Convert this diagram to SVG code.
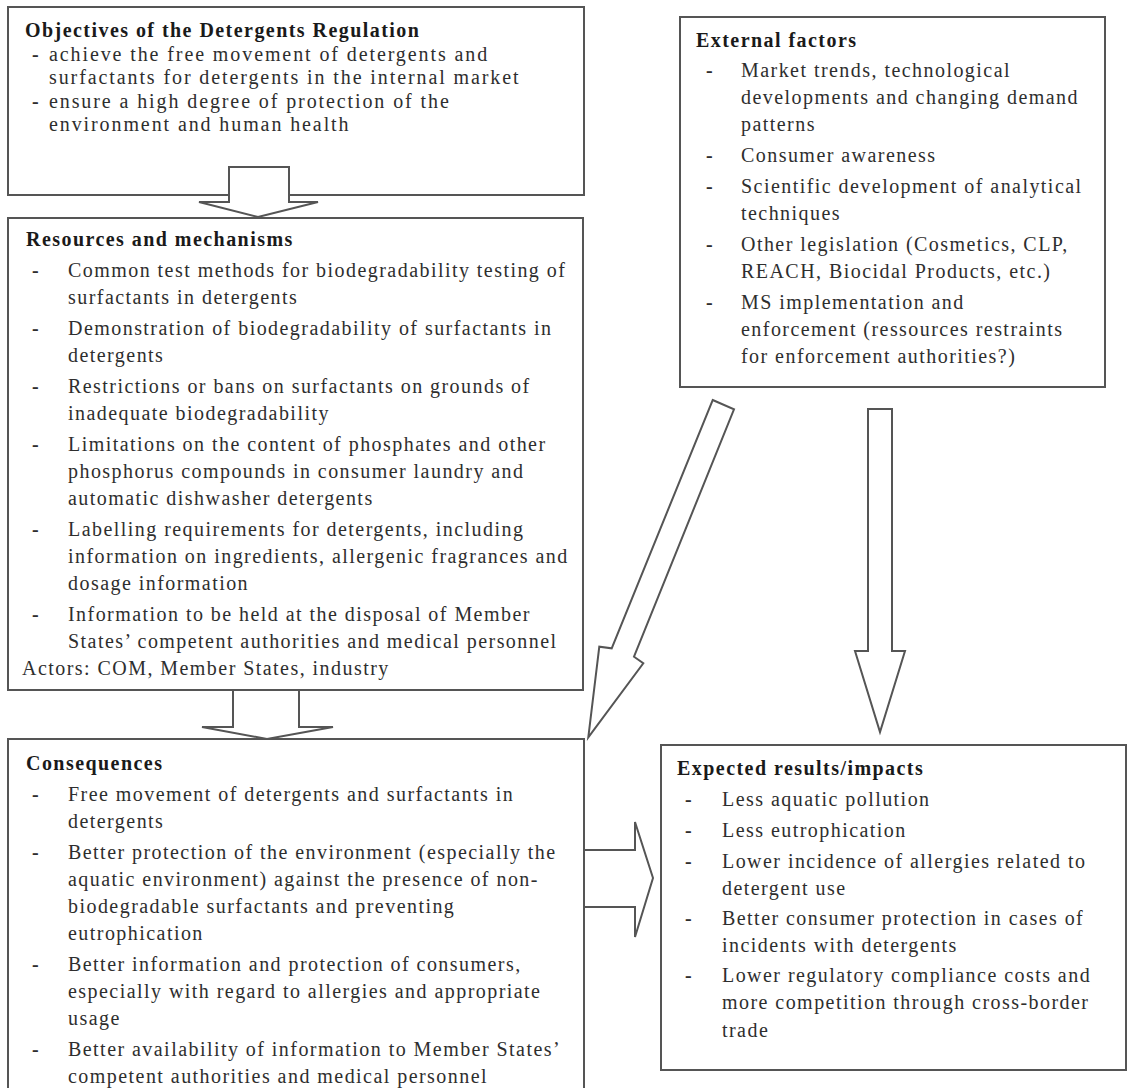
<svg xmlns="http://www.w3.org/2000/svg" width="1128" height="1088" viewBox="0 0 1128 1088">
<style>
  .box { fill: #ffffff; stroke: #555555; stroke-width: 2; }
  .arrow { fill: #ffffff; stroke: #555555; stroke-width: 2; stroke-linejoin: miter; }
  text { font-family: "Liberation Serif", "Times New Roman", serif; font-size: 20px; letter-spacing: 1.45px; fill: #2e2e2e; }
  .t { font-weight: bold; fill: #1a1a1a; }
  .d { font-weight: bold; fill: #2e2e2e; }
  .w { letter-spacing: 1.9px; }
</style>
<rect width="1128" height="1088" fill="#ffffff"/>

<g id="objectives">
  <rect class="box" x="8" y="7" width="576" height="188"/>
  <text class="t" x="25" y="37">Objectives of the Detergents Regulation</text>
  <text class="d" x="32" y="61">-</text>
  <text class="w" x="49" y="61">achieve the free movement of detergents and</text>
  <text class="w" x="49" y="84">surfactants for detergents in the internal market</text>
  <text class="d" x="32" y="108">-</text>
  <text class="w" x="49" y="108">ensure a high degree of protection of the</text>
  <text class="w" x="49" y="131">environment and human health</text>
</g>

<g id="resources">
  <rect class="box" x="8" y="218" width="575" height="472"/>
  <text class="t" x="26" y="246">Resources and mechanisms</text>
  <text class="d" x="32" y="277">-</text>
  <text x="68" y="277">Common test methods for biodegradability testing of</text>
  <text x="68" y="304">surfactants in detergents</text>
  <text class="d" x="32" y="335">-</text>
  <text x="68" y="335">Demonstration of biodegradability of surfactants in</text>
  <text x="68" y="362">detergents</text>
  <text class="d" x="32" y="393">-</text>
  <text x="68" y="393">Restrictions or bans on surfactants on grounds of</text>
  <text x="68" y="420">inadequate biodegradability</text>
  <text class="d" x="32" y="451">-</text>
  <text x="68" y="451">Limitations on the content of phosphates and other</text>
  <text x="68" y="478">phosphorus compounds in consumer laundry and</text>
  <text x="68" y="505">automatic dishwasher detergents</text>
  <text class="d" x="32" y="536">-</text>
  <text x="68" y="536">Labelling requirements for detergents, including</text>
  <text x="68" y="563">information on ingredients, allergenic fragrances and</text>
  <text x="68" y="590">dosage information</text>
  <text class="d" x="32" y="621">-</text>
  <text x="68" y="621">Information to be held at the disposal of Member</text>
  <text x="68" y="648">States’ competent authorities and medical personnel</text>
  <text x="22" y="675">Actors: COM, Member States, industry</text>
</g>

<g id="consequences">
  <rect class="box" x="8" y="739" width="576" height="360"/>
  <text class="t" x="26" y="770">Consequences</text>
  <text class="d" x="32" y="801">-</text>
  <text x="68" y="801">Free movement of detergents and surfactants in</text>
  <text x="68" y="828">detergents</text>
  <text class="d" x="32" y="859">-</text>
  <text x="68" y="859">Better protection of the environment (especially the</text>
  <text x="68" y="886">aquatic environment) against the presence of non-</text>
  <text x="68" y="913">biodegradable surfactants and preventing</text>
  <text x="68" y="940">eutrophication</text>
  <text class="d" x="32" y="971">-</text>
  <text x="68" y="971">Better information and protection of consumers,</text>
  <text x="68" y="998">especially with regard to allergies and appropriate</text>
  <text x="68" y="1025">usage</text>
  <text class="d" x="32" y="1056">-</text>
  <text x="68" y="1056">Better availability of information to Member States’</text>
  <text x="68" y="1083">competent authorities and medical personnel</text>
</g>

<g id="external">
  <rect class="box" x="680" y="17" width="425" height="370"/>
  <text class="t" x="696" y="47">External factors</text>
  <text class="d" x="706" y="77">-</text>
  <text x="741" y="77">Market trends, technological</text>
  <text x="741" y="104">developments and changing demand</text>
  <text x="741" y="131">patterns</text>
  <text class="d" x="706" y="162">-</text>
  <text x="741" y="162">Consumer awareness</text>
  <text class="d" x="706" y="193">-</text>
  <text x="741" y="193">Scientific development of analytical</text>
  <text x="741" y="220">techniques</text>
  <text class="d" x="706" y="251">-</text>
  <text x="741" y="251">Other legislation (Cosmetics, CLP,</text>
  <text x="741" y="278">REACH, Biocidal Products, etc.)</text>
  <text class="d" x="706" y="309">-</text>
  <text x="741" y="309">MS implementation and</text>
  <text x="741" y="336">enforcement (ressources restraints</text>
  <text x="741" y="363">for enforcement authorities?)</text>
</g>

<g id="expected">
  <rect class="box" x="661" y="745" width="465" height="325"/>
  <text class="t" x="677" y="775">Expected results/impacts</text>
  <text class="d" x="685" y="806">-</text>
  <text x="722" y="806">Less aquatic pollution</text>
  <text class="d" x="685" y="837">-</text>
  <text x="722" y="837">Less eutrophication</text>
  <text class="d" x="685" y="868">-</text>
  <text x="722" y="868">Lower incidence of allergies related to</text>
  <text x="722" y="895">detergent use</text>
  <text class="d" x="685" y="925">-</text>
  <text x="722" y="925">Better consumer protection in cases of</text>
  <text x="722" y="952">incidents with detergents</text>
  <text class="d" x="685" y="982">-</text>
  <text x="722" y="982">Lower regulatory compliance costs and</text>
  <text x="722" y="1009">more competition through cross-border</text>
  <text x="722" y="1037">trade</text>
</g>

<g id="connectors">
  <polygon class="arrow" points="229,167 289,167 289,202 318,202 258,217 199,202 229,202"/>
  <polygon class="arrow" points="233,690 299,690 299,727 333,727 267,739 202,727 233,727"/>
  <polygon class="arrow" points="868,409 892,409 892,651 905,651 880,732 855,651 868,651"/>
  <polygon class="arrow" points="584,850 635,850 635,822 653,878 635,937 635,907 584,907"/>
  <polygon class="arrow" points="712.7,400 734,409.3 634,656.7 643.3,663.3 588.3,737.3 599.3,646.7 611.7,648.3"/>
</g>
</svg>
